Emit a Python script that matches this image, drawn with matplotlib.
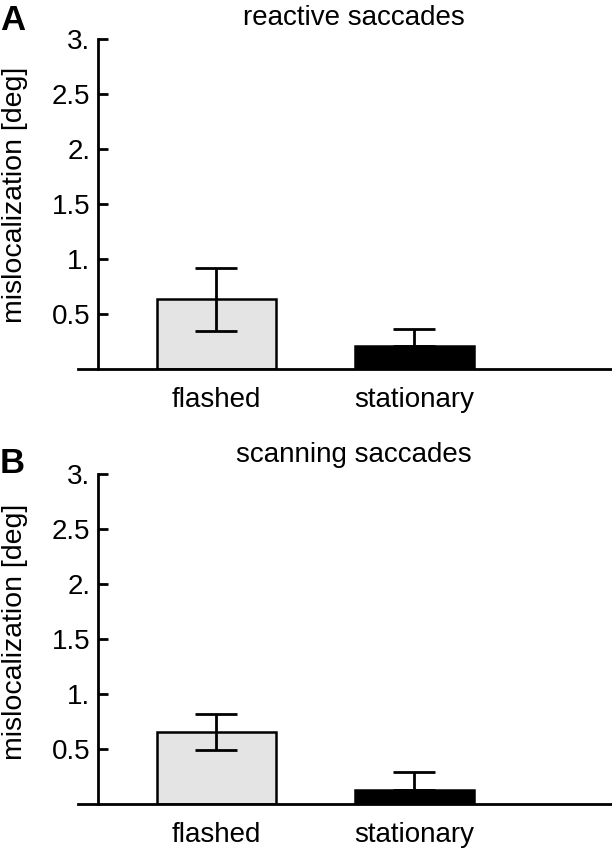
# mislocalization bar charts, panels A and B

import numpy as np
import matplotlib.pyplot as plt

plt.rcParams['font.family'] = ['Liberation Sans', 'DejaVu Sans']

# Daten
conditions = ['flashed', 'stationary']
bar_colors = ['#e4e4e4', 'black']

reactive_mean = [0.635, 0.212]
reactive_err_lo = [0.285, 0.0]
reactive_err_hi = [0.285, 0.152]

scanning_mean = [0.657, 0.124]
scanning_err_lo = [0.163, 0.0]
scanning_err_hi = [0.163, 0.163]

ytick_vals = [0.5, 1.0, 1.5, 2.0, 2.5, 3.0]
ytick_labels = ['0.5', '1.', '1.5', '2.', '2.5', '3.']

fs = 20
W, H = 612, 852

fig = plt.figure(figsize=(W / 100, H / 100), dpi=100)


def panel(rect, means, lo, hi):
    ax = fig.add_axes(rect)
    # spines first - set_position resets the ticks
    for s in ['top', 'right']:
        ax.spines[s].set_visible(False)
    ax.spines['left'].set_position(('data', 0.4))
    ax.spines['left'].set_bounds(0, 3)
    ax.spines['left'].set_linewidth(2)
    ax.spines['bottom'].set_linewidth(2)
    ax.patch.set_visible(False)

    x = np.arange(1, len(means) + 1)
    ax.bar(x, means, width=0.6, color=bar_colors, edgecolor='black',
           linewidth=1.8, zorder=2)
    ax.errorbar(x, means, yerr=[lo, hi], fmt='none', ecolor='black',
                elinewidth=2, capsize=15, capthick=2, zorder=3)
    ax.set_xlim(0.3, 3.0)
    ax.set_ylim(0, 3)
    ax.set_xticks(x)
    ax.set_xticklabels(conditions)
    ax.set_yticks(ytick_vals)
    ax.set_yticklabels(ytick_labels)
    ax.tick_params(axis='x', length=0, pad=13, labelsize=fs)
    ax.tick_params(axis='y', direction='in', length=7, width=2, pad=5.5,
                   labelsize=fs)
    return ax


# Panel A
panel([78 / W, 1 - 369 / H, 534 / W, 330 / H],
      reactive_mean, reactive_err_lo, reactive_err_hi)
fig.text(0, 1 - 30 / H, 'A', fontsize=25, fontweight='bold', va='baseline')
fig.text(354 / W, 1 - 25 / H, 'reactive saccades', fontsize=fs,
         ha='center', va='baseline')
fig.text(15 / W, 1 - 195 / H, 'mislocalization [deg]', fontsize=fs + 0.5,
         rotation=90, ha='center', va='center')

# Panel B
panel([78 / W, 1 - 804 / H, 534 / W, 330 / H],
      scanning_mean, scanning_err_lo, scanning_err_hi)
fig.text(0, 1 - 473 / H, 'B', fontsize=25, fontweight='bold', va='baseline')
fig.text(354 / W, 1 - 462 / H, 'scanning saccades', fontsize=fs,
         ha='center', va='baseline')
fig.text(15 / W, 1 - 632 / H, 'mislocalization [deg]', fontsize=fs + 0.5,
         rotation=90, ha='center', va='center')

plt.savefig('out.png', dpi=100)
